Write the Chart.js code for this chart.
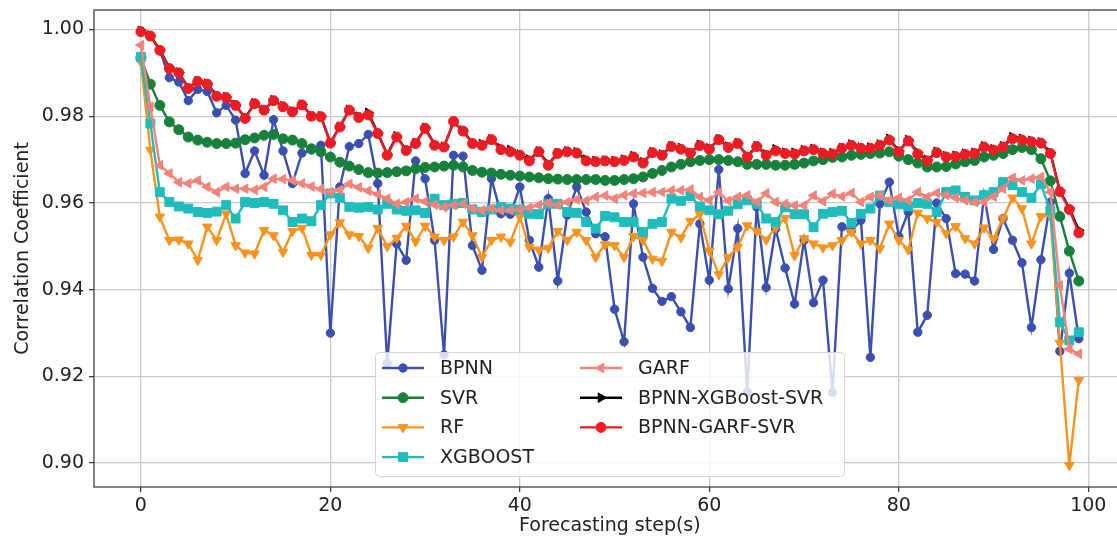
<!DOCTYPE html>
<html>
<head>
<title>Correlation Coefficient per Forecasting step</title>
<style>
html, body { margin:0; padding:0; overflow:hidden; background:#fff; }
</style>
</head>
<body>
<canvas id="chartCorr" width="1117" height="542"></canvas>
<script src="https://cdn.jsdelivr.net/npm/chart.js@4/dist/chart.umd.min.js"></script>
<script>
// forecasting steps 0..99
const steps = Array.from({length: 100}, (_, i) => i);

const bpnn = [
 0.9995, 0.9985, 0.9952, 0.9889, 0.9879, 0.9836, 0.9862, 0.9857, 0.9808, 0.9825,
 0.9791, 0.9668, 0.9720, 0.9664, 0.9792, 0.9720, 0.9645, 0.9715, 0.9722, 0.9733,
 0.9300, 0.9637, 0.9730, 0.9737, 0.9758, 0.9645, 0.9230, 0.9506, 0.9468, 0.9697,
 0.9656, 0.9514, 0.9250, 0.9710, 0.9708, 0.9502, 0.9445, 0.9656, 0.9575, 0.9574,
 0.9637, 0.9514, 0.9452, 0.9610, 0.9420, 0.9572, 0.9637, 0.9579, 0.9529, 0.9522,
 0.9355, 0.9280, 0.9598, 0.9475, 0.9403, 0.9373, 0.9384, 0.9349, 0.9313, 0.9552,
 0.9422, 0.9677, 0.9402, 0.9541, 0.9163, 0.9591, 0.9405, 0.9540, 0.9450, 0.9367,
 0.9514, 0.9370, 0.9422, 0.9163, 0.9545, 0.9536, 0.9560, 0.9244, 0.9598, 0.9648,
 0.9523, 0.9579, 0.9302, 0.9341, 0.9600, 0.9564, 0.9437, 0.9436, 0.9420, 0.9618,
 0.9493, 0.9564, 0.9514, 0.9462, 0.9313, 0.9469, 0.9602, 0.9258, 0.9438, 0.9287];

const svr = [
 0.9935, 0.9874, 0.9825, 0.9787, 0.9769, 0.9752, 0.9745, 0.9740, 0.9737, 0.9737,
 0.9738, 0.9746, 0.9750, 0.9756, 0.9758, 0.9748, 0.9745, 0.9737, 0.9725, 0.9718,
 0.9706, 0.9694, 0.9685, 0.9677, 0.9670, 0.9669, 0.9670, 0.9672, 0.9674, 0.9679,
 0.9682, 0.9683, 0.9685, 0.9687, 0.9683, 0.9675, 0.9671, 0.9669, 0.9666, 0.9664,
 0.9662, 0.9660, 0.9658, 0.9656, 0.9655, 0.9654, 0.9654, 0.9654, 0.9654, 0.9652,
 0.9652, 0.9654, 0.9656, 0.9660, 0.9668, 0.9675, 0.9683, 0.9689, 0.9695, 0.9698,
 0.9700, 0.9700, 0.9698, 0.9695, 0.9689, 0.9689, 0.9689, 0.9687, 0.9687, 0.9689,
 0.9692, 0.9697, 0.9700, 0.9705, 0.9706, 0.9710, 0.9712, 0.9714, 0.9715, 0.9718,
 0.9708, 0.9700, 0.9692, 0.9683, 0.9683, 0.9684, 0.9690, 0.9695, 0.9698, 0.9706,
 0.9710, 0.9714, 0.9723, 0.9728, 0.9723, 0.9702, 0.9651, 0.9569, 0.9489, 0.9420];

const rf = [
 0.9925, 0.9722, 0.9568, 0.9514, 0.9515, 0.9506, 0.9468, 0.9545, 0.9514, 0.9575,
 0.9502, 0.9485, 0.9483, 0.9537, 0.9525, 0.9487, 0.9535, 0.9542, 0.9480, 0.9480,
 0.9527, 0.9555, 0.9527, 0.9523, 0.9496, 0.9542, 0.9500, 0.9519, 0.9547, 0.9511,
 0.9547, 0.9522, 0.9514, 0.9522, 0.9556, 0.9525, 0.9475, 0.9514, 0.9522, 0.9510,
 0.9568, 0.9498, 0.9492, 0.9496, 0.9535, 0.9514, 0.9533, 0.9514, 0.9475, 0.9504,
 0.9502, 0.9475, 0.9523, 0.9514, 0.9471, 0.9466, 0.9533, 0.9520, 0.9558, 0.9574,
 0.9490, 0.9435, 0.9475, 0.9498, 0.9548, 0.9535, 0.9515, 0.9543, 0.9565, 0.9479,
 0.9518, 0.9506, 0.9497, 0.9502, 0.9514, 0.9533, 0.9506, 0.9514, 0.9495, 0.9552,
 0.9514, 0.9492, 0.9577, 0.9564, 0.9556, 0.9530, 0.9546, 0.9518, 0.9506, 0.9543,
 0.9518, 0.9564, 0.9612, 0.9587, 0.9506, 0.9569, 0.9571, 0.9277, 0.8995, 0.9191];

const xgboost = [
 0.9937, 0.9783, 0.9625, 0.9602, 0.9592, 0.9587, 0.9579, 0.9577, 0.9580, 0.9595,
 0.9564, 0.9602, 0.9600, 0.9602, 0.9598, 0.9583, 0.9556, 0.9564, 0.9558, 0.9595,
 0.9622, 0.9612, 0.9591, 0.9589, 0.9591, 0.9585, 0.9598, 0.9585, 0.9582, 0.9583,
 0.9577, 0.9610, 0.9595, 0.9598, 0.9600, 0.9585, 0.9579, 0.9585, 0.9591, 0.9587,
 0.9585, 0.9575, 0.9574, 0.9598, 0.9598, 0.9579, 0.9577, 0.9556, 0.9541, 0.9570,
 0.9567, 0.9556, 0.9556, 0.9533, 0.9552, 0.9556, 0.9610, 0.9605, 0.9616, 0.9592,
 0.9583, 0.9574, 0.9582, 0.9597, 0.9606, 0.9598, 0.9564, 0.9556, 0.9590, 0.9574,
 0.9574, 0.9544, 0.9575, 0.9579, 0.9582, 0.9554, 0.9575, 0.9587, 0.9617, 0.9602,
 0.9597, 0.9592, 0.9600, 0.9598, 0.9579, 0.9625, 0.9629, 0.9614, 0.9606, 0.9618,
 0.9625, 0.9648, 0.9641, 0.9625, 0.9612, 0.9643, 0.9583, 0.9325, 0.9283, 0.9302];

const garf = [
 0.9964, 0.9822, 0.9687, 0.9668, 0.9648, 0.9645, 0.9652, 0.9637, 0.9625, 0.9637,
 0.9633, 0.9633, 0.9630, 0.9637, 0.9656, 0.9655, 0.9652, 0.9645, 0.9638, 0.9632,
 0.9625, 0.9630, 0.9644, 0.9636, 0.9628, 0.9620, 0.9610, 0.9598, 0.9602, 0.9610,
 0.9603, 0.9596, 0.9590, 0.9595, 0.9598, 0.9587, 0.9583, 0.9587, 0.9583, 0.9583,
 0.9585, 0.9589, 0.9595, 0.9600, 0.9595, 0.9602, 0.9608, 0.9605, 0.9614, 0.9617,
 0.9610, 0.9618, 0.9622, 0.9623, 0.9625, 0.9625, 0.9629, 0.9629, 0.9631, 0.9614,
 0.9606, 0.9625, 0.9605, 0.9614, 0.9618, 0.9602, 0.9622, 0.9602, 0.9598, 0.9594,
 0.9594, 0.9617, 0.9604, 0.9621, 0.9615, 0.9623, 0.9602, 0.9614, 0.9618, 0.9606,
 0.9612, 0.9606, 0.9625, 0.9614, 0.9623, 0.9618, 0.9612, 0.9606, 0.9602, 0.9602,
 0.9615, 0.9633, 0.9658, 0.9652, 0.9656, 0.9660, 0.9625, 0.9410, 0.9263, 0.9252];

const bpnnXgbSvr = [
 0.9997, 0.9986, 0.9953, 0.9912, 0.9901, 0.9866, 0.9881, 0.9875, 0.9848, 0.9844,
 0.9826, 0.9796, 0.9830, 0.9815, 0.9837, 0.9823, 0.9811, 0.9827, 0.9801, 0.9800,
 0.9739, 0.9776, 0.9815, 0.9799, 0.9808, 0.9762, 0.9712, 0.9754, 0.9722, 0.9738,
 0.9773, 0.9735, 0.9730, 0.9786, 0.9767, 0.9738, 0.9736, 0.9747, 0.9726, 0.9722,
 0.9712, 0.9700, 0.9719, 0.9690, 0.9715, 0.9719, 0.9717, 0.9700, 0.9697, 0.9698,
 0.9697, 0.9700, 0.9708, 0.9694, 0.9717, 0.9712, 0.9731, 0.9727, 0.9716, 0.9734,
 0.9726, 0.9747, 0.9730, 0.9738, 0.9708, 0.9731, 0.9712, 0.9724, 0.9716, 0.9716,
 0.9722, 0.9725, 0.9716, 0.9715, 0.9727, 0.9735, 0.9728, 0.9728, 0.9735, 0.9748,
 0.9720, 0.9745, 0.9716, 0.9699, 0.9718, 0.9708, 0.9709, 0.9714, 0.9716, 0.9731,
 0.9724, 0.9731, 0.9752, 0.9748, 0.9743, 0.9740, 0.9716, 0.9628, 0.9588, 0.9537];

const bpnnGarfSvr = [
 0.9995, 0.9985, 0.9952, 0.9910, 0.9900, 0.9864, 0.9880, 0.9874, 0.9846, 0.9843,
 0.9825, 0.9795, 0.9829, 0.9814, 0.9836, 0.9822, 0.9810, 0.9826, 0.9800, 0.9799,
 0.9738, 0.9775, 0.9814, 0.9797, 0.9803, 0.9760, 0.9710, 0.9752, 0.9721, 0.9737,
 0.9772, 0.9733, 0.9729, 0.9788, 0.9766, 0.9737, 0.9733, 0.9746, 0.9723, 0.9718,
 0.9710, 0.9697, 0.9718, 0.9687, 0.9714, 0.9718, 0.9715, 0.9697, 0.9695, 0.9697,
 0.9695, 0.9698, 0.9706, 0.9692, 0.9716, 0.9710, 0.9730, 0.9724, 0.9715, 0.9732,
 0.9724, 0.9746, 0.9728, 0.9737, 0.9706, 0.9730, 0.9710, 0.9720, 0.9714, 0.9713,
 0.9720, 0.9723, 0.9714, 0.9713, 0.9726, 0.9733, 0.9726, 0.9726, 0.9733, 0.9745,
 0.9718, 0.9743, 0.9713, 0.9697, 0.9716, 0.9706, 0.9707, 0.9712, 0.9714, 0.9729,
 0.9722, 0.9729, 0.9748, 0.9745, 0.9741, 0.9738, 0.9714, 0.9626, 0.9585, 0.9531];

const yTicks = [0.90, 0.92, 0.94, 0.96, 0.98, 1.00];
const xTicks = [0, 20, 40, 60, 80, 100];

const fontName = '"DejaVu Sans", sans-serif';
const textColor = '#222';

function seri(label, data, color, style, rot, radius, order) {
  return {
    label: label, data: data, order: order,
    borderColor: color, backgroundColor: color, borderWidth: 2.4,
    pointStyle: style, pointRotation: rot, pointRadius: radius, pointHoverRadius: radius,
    pointBackgroundColor: color, pointBorderColor: color, pointBorderWidth: 1,
    tension: 0, fill: false
  };
}

// the plot box of the original figure: it runs past the right edge of the picture
const kotak = { left: 94, top: 10, right: 1125.7, bottom: 487 };

const aturArea = {
  id: 'aturArea',
  afterLayout(chart) {
    const area = chart.chartArea;
    Object.assign(area, kotak);
    area.width = kotak.right - kotak.left;
    area.height = kotak.bottom - kotak.top;
    const x = chart.scales.x, y = chart.scales.y;
    x.left = kotak.left; x.right = kotak.right; x.width = area.width;
    x.top = kotak.bottom; x.bottom = chart.height; x.height = chart.height - kotak.bottom;
    y.left = 0; y.right = kotak.left; y.width = kotak.left;
    y.top = kotak.top; y.bottom = kotak.bottom; y.height = area.height;
    x.configure();
    y.configure();
  }
};

// legend box + spines, drawn above the lines like matplotlib
const kotakLegend = {
  id: 'kotakLegend',
  afterDatasetsDraw(chart) {
    const ctx = chart.ctx;
    const a = chart.chartArea;
    ctx.save();
    ctx.strokeStyle = '#333';
    ctx.lineWidth = 1.2;
    ctx.strokeRect(a.left, a.top, a.right - a.left, a.bottom - a.top);

    ctx.beginPath();
    ctx.roundRect(375.5, 352.5, 469, 124, 4);
    ctx.fillStyle = 'rgba(255,255,255,0.8)';
    ctx.fill();
    ctx.strokeStyle = '#d4d4d4';
    ctx.lineWidth = 1;
    ctx.stroke();

    chart.data.datasets.forEach(function(ds, i) {
      const col = i < 4 ? 0 : 1;
      const row = i < 4 ? i : i - 4;
      const x0 = col ? 580 : 382;
      const y = 368 + row * 29.7;
      ctx.strokeStyle = ds.borderColor;
      ctx.lineWidth = ds.borderWidth;
      ctx.beginPath();
      ctx.moveTo(x0, y);
      ctx.lineTo(x0 + 42, y);
      ctx.stroke();
      ctx.fillStyle = ds.borderColor;
      ctx.lineWidth = 1;
      if (Chart.helpers && Chart.helpers.drawPoint) {
        Chart.helpers.drawPoint(ctx, {pointStyle: ds.pointStyle, rotation: ds.pointRotation,
          radius: ds.pointRadius, borderWidth: 1}, x0 + 21, y);
      } else {
        ctx.beginPath();
        ctx.arc(x0 + 21, y, ds.pointRadius, 0, Math.PI * 2);
        ctx.fill();
      }
      ctx.fillStyle = textColor;
      ctx.font = '19px ' + fontName;
      ctx.textBaseline = 'middle';
      ctx.textAlign = 'left';
      ctx.fillText(ds.label, x0 + 58, y + 1);
    });
    ctx.restore();
  }
};

const config = {
  type: 'line',
  data: {
    labels: steps,
    datasets: [
      seri('BPNN', bpnn, '#3a4fb0', 'circle', 0, 4.2, 6),
      seri('SVR', svr, '#17803a', 'circle', 0, 5, 5),
      seri('RF', rf, '#f7931e', 'triangle', 180, 5.5, 4),
      seri('XGBOOST', xgboost, '#1fbcbc', 'rect', 0, 6.3, 3),
      seri('GARF', garf, '#f2837a', 'triangle', -90, 5.5, 2),
      seri('BPNN-XGBoost-SVR', bpnnXgbSvr, '#000000', 'triangle', 90, 5.5, 1),
      seri('BPNN-GARF-SVR', bpnnGarfSvr, '#ec1c24', 'circle', 0, 5, 0)
    ]
  },
  options: {
    responsive: false,
    animation: false,
    devicePixelRatio: 1,
    plugins: { legend: { display: false }, tooltip: { enabled: false } },
    scales: {
      x: {
        type: 'linear', min: -4.95, max: 103.95,
        afterBuildTicks: function(s) { s.ticks = xTicks.map(v => ({value: v})); },
        ticks: { color: textColor, font: { family: fontName, size: 19 }, padding: 3, maxRotation: 0 },
        grid: { color: '#c9c9c9', lineWidth: 1.3, tickLength: 5, tickColor: '#333', tickWidth: 1.2 },
        border: { display: false },
        title: { display: true, text: 'Forecasting step(s)', color: textColor,
          font: { family: fontName, size: 19 }, padding: { top: 2, bottom: 5 } }
      },
      y: {
        min: 0.8945, max: 1.0045,
        afterBuildTicks: function(s) { s.ticks = yTicks.map(v => ({value: v})); },
        ticks: { color: textColor, font: { family: fontName, size: 19 }, padding: 5,
          callback: function(v) { return v.toFixed(2); } },
        grid: { color: '#c9c9c9', lineWidth: 1.3, tickLength: 5, tickColor: '#333', tickWidth: 1.2 },
        border: { display: false },
        title: { display: true, text: 'Correlation Coefficient', color: textColor,
          font: { family: fontName, size: 19 }, padding: { top: 12, bottom: 0 } }
      }
    }
  },
  plugins: [aturArea, kotakLegend]
};

new Chart(document.getElementById('chartCorr').getContext('2d'), config);
</script>
</body>
</html>
